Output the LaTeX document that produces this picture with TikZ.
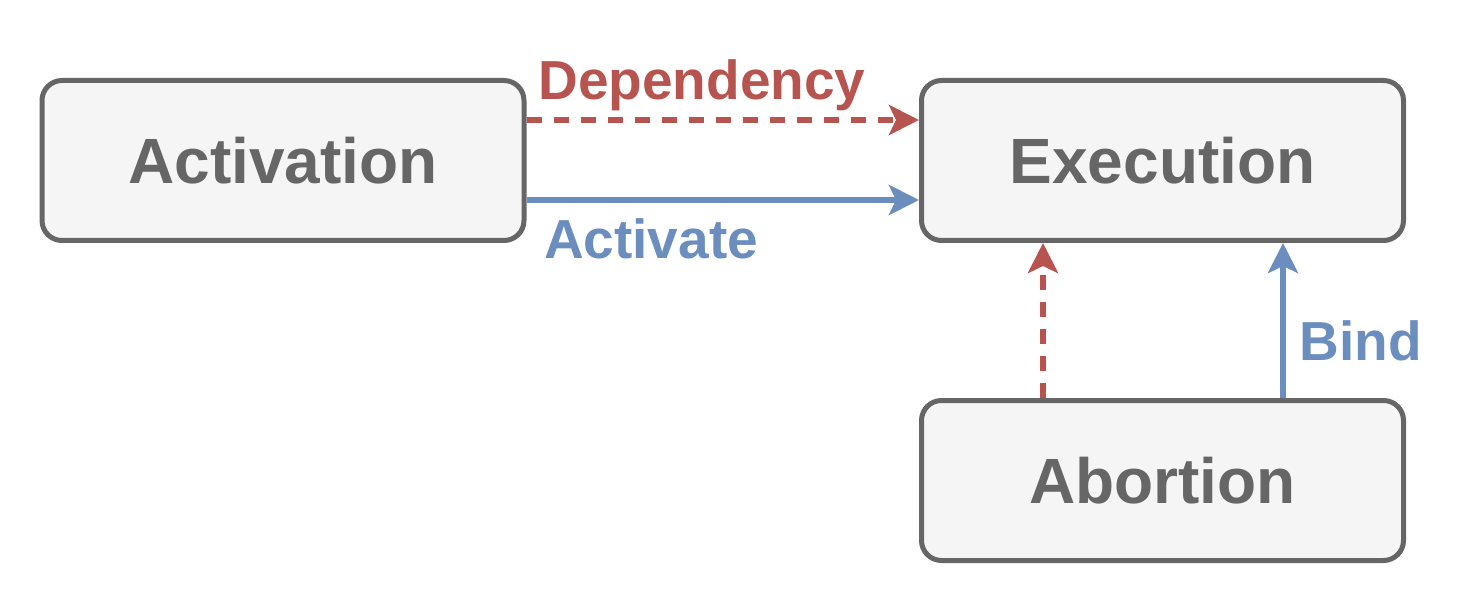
\documentclass[tikz,border=0pt]{standalone}
\usepackage{fontspec}
\setmainfont{Liberation Sans}
\usetikzlibrary{arrows.meta}
\definecolor{boxdraw}{HTML}{666666}
\definecolor{boxfill}{HTML}{F5F5F5}
\definecolor{depred}{HTML}{B85450}
\definecolor{actblue}{HTML}{6C8EBF}
\begin{document}
\begin{tikzpicture}[x=1pt,y=-1pt,
  box/.style={draw=boxdraw, fill=boxfill, line width=5pt, rounded corners=20pt,
    minimum width=482pt, minimum height=160pt, inner sep=0pt,
    font=\fontsize{64}{70}\selectfont\bfseries, text=boxdraw},
  deparrow/.style={draw=depred, line width=5.5pt, dash pattern=on 15pt off 12pt,
    -{Stealth[length=30pt,width=30pt,inset=7pt]}},
  actarrow/.style={draw=actblue, line width=5.5pt,
    -{Stealth[length=30pt,width=30pt,inset=7pt]}},
  lbl/.style={font=\fontsize{55}{60}\selectfont\bfseries, anchor=base, inner sep=0pt}
]
\useasboundingbox (0,0) rectangle (1484,604);
\node[box] (act) at (283,160.5) {Activation};
\node[box] (exe) at (1162.5,160.5) {Execution};
\node[box] (abo) at (1162.5,480.5) {Abortion};
\draw[deparrow] (act.east |- 0,120) -- (exe.west |- 0,120);
\draw[actarrow] (act.east |- 0,200) -- (exe.west |- 0,200);
\draw[deparrow] (abo.north -| 1043,0) -- (exe.south -| 1043,0);
\draw[actarrow] (abo.north -| 1283,0) -- (exe.south -| 1283,0);
\node[lbl, text=depred] (ldep) at (702,100) {Dependency};
\node[lbl, text=actblue] (lact) at (651,259) {Activate};
\node[lbl, text=actblue] (lbind) at (1361,360) {Bind};
\end{tikzpicture}
\end{document}
